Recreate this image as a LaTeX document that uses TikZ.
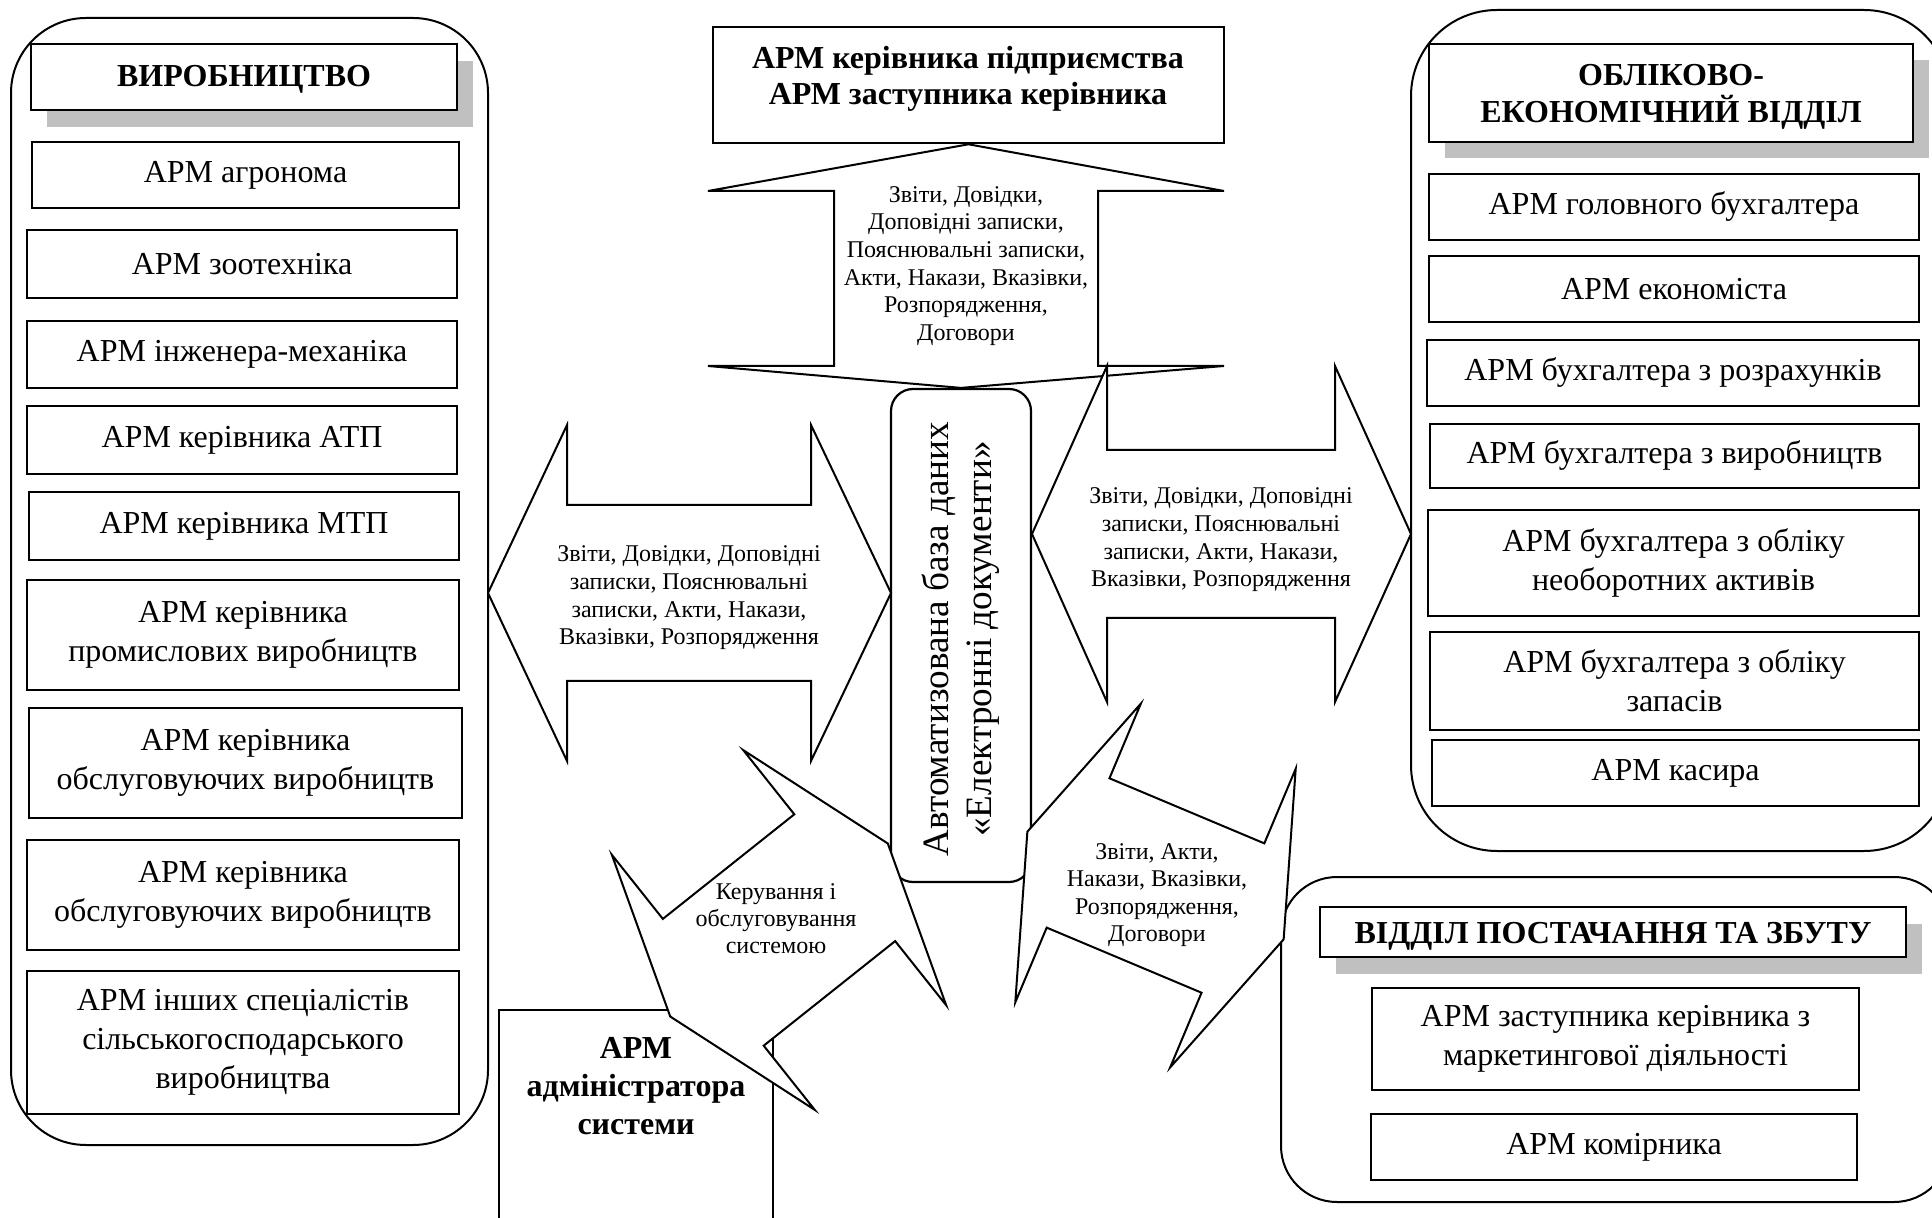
\documentclass[tikz,border=0pt]{standalone}
\usepackage{fontspec}
\setmainfont{Liberation Serif}
\definecolor{shadowgray}{HTML}{C0C0C0}
\tikzset{
  armbox/.style={draw, line width=1.3pt, fill=white, inner sep=0pt, align=center,
    font=\fontsize{16}{19.5}\selectfont},
  headbox/.style={armbox, font=\bfseries\fontsize{16}{18.5}\selectfont},
  container/.style={draw, line width=1pt, inner sep=0pt},
  bigarrow/.style={draw, line width=1pt, fill=white, line join=miter},
  arrowtext/.style={align=center, inner sep=0pt, font=\fontsize{12}{13.8}\selectfont},
  shadowbox/.style={fill=shadowgray},
  boldtext/.style={inner sep=0pt, align=center, font=\bfseries\fontsize{16}{18.5}\selectfont},
}
% \armnode{name}{x1}{y1}{x2}{y2}{text}  (pixel corners)
\newcommand\armnode[6]{\node[armbox, minimum width={(#4-#2)*0.5pt}, minimum height={(#5-#3)*0.5pt}]
  (#1) at ({(#2+#4)/2},{(#3+#5)/2}) {#6};}
\newcommand\headnode[5]{\node[headbox, minimum width={(#4-#2)*0.5pt}, minimum height={(#5-#3)*0.5pt}]
  (#1) at ({(#2+#4)/2},{(#3+#5)/2}) {};}
\begin{document}
\begin{tikzpicture}[x=0.5pt, y=-0.5pt]
\useasboundingbox (0,0) rectangle (1932,1218);
\clip (0,0) rectangle (1932,1218);
\fill[white] (0,0) rectangle (1932,1218);

% ---------- containers ----------
\node[container, rounded corners=37.5pt, minimum width=238.5pt, minimum height=563.5pt] (prod) at (249.5,581.5) {};
\node[container, rounded corners=43pt, minimum width=269.5pt, minimum height=420.5pt] (acc) at (1680.5,430.5) {};
\node[container, rounded corners=28pt, minimum width=334.5pt, minimum height=162.5pt] (sup) at (1615.5,1039.5) {};

% ---------- left column ----------
\fill[shadowbox] (47,61) rectangle (473,127);
\headnode{prodhead}{31}{44}{457}{110}
\node[boldtext] (prodtitle) at (244,79) {ВИРОБНИЦТВО};
\armnode{l1}{32}{142}{459}{208}{АРМ агронома}
\armnode{l2}{27}{230}{457}{298}{АРМ зоотехніка}
\armnode{l3}{27}{321}{457}{388}{АРМ інженера-механіка}
\armnode{l4}{27}{406}{457}{474}{АРМ керівника АТП}
\armnode{l5}{29}{492}{459}{560}{АРМ керівника МТП}
\armnode{l6}{27}{580}{459}{690}{АРМ керівника\\промислових виробництв}
\armnode{l7}{29}{708}{462}{818}{АРМ керівника\\обслуговуючих виробництв}
\armnode{l8}{27}{840}{459}{950}{АРМ керівника\\обслуговуючих виробництв}
\armnode{l9}{27}{971}{459}{1114}{АРМ інших спеціалістів\\сільськогосподарського\\виробництва}

% ---------- right column ----------
\fill[shadowbox] (1445,60) rectangle (1929,158);
\headnode{acchead}{1429}{44}{1913}{142}
\node[boldtext] (acctitle) at (1671,97) {ОБЛІКОВО-\\ЕКОНОМІЧНИЙ ВІДДІЛ};
\armnode{r1}{1429}{174}{1919}{240}{АРМ головного бухгалтера}
\armnode{r2}{1429}{256}{1919}{322}{АРМ економіста}
\armnode{r3}{1427}{340}{1919}{406}{АРМ бухгалтера з розрахунків}
\armnode{r4}{1430}{424}{1919}{488}{АРМ бухгалтера з виробництв}
\armnode{r5}{1428}{510}{1919}{616}{АРМ бухгалтера з обліку\\необоротних активів}
\armnode{r6}{1430}{632}{1919}{730}{АРМ бухгалтера з обліку\\запасів}
\armnode{r7}{1432}{740}{1919}{806}{АРМ касира}

% ---------- supply department ----------
\fill[shadowbox] (1336,924) rectangle (1922,974);
\headnode{suphead}{1320}{907}{1906}{957}
\node[boldtext] (suptitle) at (1613,936) {ВІДДІЛ ПОСТАЧАННЯ ТА ЗБУТУ};
\armnode{s1}{1372}{988}{1859}{1090}{АРМ заступника керівника з\\маркетингової діяльності}
\armnode{s2}{1371}{1114}{1857}{1180}{АРМ комірника}

% ---------- top box ----------
\armnode{top}{713}{27}{1224}{143}{}
\node[boldtext, font=\bfseries\fontsize{16}{18}\selectfont] (toptext) at (968,79)
  {АРМ керівника підприємства\\АРМ заступника керівника};

% ---------- database ----------
\node[armbox, line width=1.1pt, rounded corners=11pt, minimum width=70pt, minimum height=246.5pt]
  (db) at (961,635.5) {};
\node[rotate=90, inner sep=0pt, align=center, font=\fontsize{18.6}{21.5}\selectfont] (dbtext) at (961,639)
  {Автоматизована база даних\\«Електронні документи»};

% ---------- admin ----------
\armnode{admin}{499}{1010}{773}{1260}{}
\node[boldtext, font=\bfseries\fontsize{16}{19}\selectfont] (admintext) at (636,1086)
  {АРМ\\адміністратора\\системи};

% ---------- big arrows ----------
% top <-> db
\draw[bigarrow] (top.south) -- (1224,191) -- (1098,191) -- (1098,366) -- (1224,366) -- (db.north)
  -- (708,366) -- (834,366) -- (834,191) -- (708,191) -- cycle;
\node[arrowtext] (ta) at (966,266) {Звіти, Довідки,\\Доповідні записки,\\Пояснювальні записки,\\Акти, Накази, Вказівки,\\Розпорядження,\\Договори};

% production <-> db
\draw[bigarrow] (488,593) -- (567,425) -- (567,505) -- (811,505) -- (811,425) -- (891,593)
  -- (811,761) -- (811,681) -- (567,681) -- (567,761) -- cycle;
\node[arrowtext] (la) at (689,598) {Звіти, Довідки, Доповідні\\записки, Пояснювальні\\записки, Акти, Накази,\\Вказівки, Розпорядження};

% db <-> accounting
\draw[bigarrow] (1032,534) -- (1107,366) -- (1107,450) -- (1335,450) -- (1335,366) -- (1411,534)
  -- (1335,702) -- (1335,618) -- (1107,618) -- (1107,702) -- cycle;
\node[arrowtext] (ra) at (1221,540) {Звіти, Довідки, Доповідні\\записки, Пояснювальні\\записки, Акти, Накази,\\Вказівки, Розпорядження};

% admin <-> db
\begin{scope}[shift={(779,930)}, rotate=38.5]
\draw[bigarrow] (-139,0) -- (-84,-163) -- (-84,-81) -- (84,-81) -- (84,-163) -- (139,0)
  -- (84,163) -- (84,81) -- (-84,81) -- (-84,163) -- cycle;
\end{scope}
\node[arrowtext, font=\fontsize{12}{13.5}\selectfont] (aa) at (776,919) {Керування і\\обслуговування\\системою};

% db <-> supply
\begin{scope}[shift={(1155.5,885.5)}, rotate=-22.8]
\draw[bigarrow] (-139,0) -- (-84,-162) -- (-84,-81) -- (84,-81) -- (84,-162) -- (139,0)
  -- (84,162) -- (84,81) -- (-84,81) -- (-84,162) -- cycle;
\end{scope}
\node[arrowtext] (sa) at (1157,895) {Звіти, Акти,\\Накази, Вказівки,\\Розпорядження,\\Договори};
\end{tikzpicture}
\end{document}
